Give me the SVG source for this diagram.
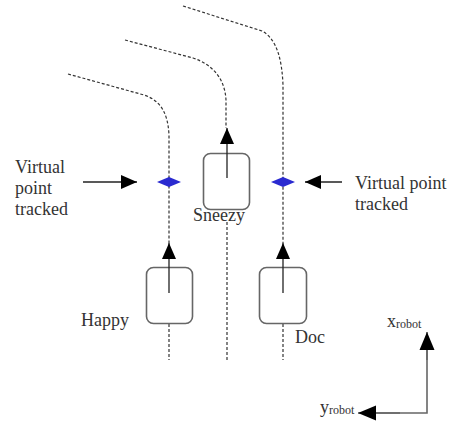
<svg xmlns="http://www.w3.org/2000/svg" width="454" height="423" viewBox="0 0 454 423">
  <style>
    text { font-family: "Liberation Serif", "DejaVu Serif", serif; fill: #333; }
    .label { font-size: 18px; }
    .sub { font-size: 12px; }
    .track { fill: none; stroke: #333; stroke-width: 1.2; stroke-dasharray: 3 2; }
    .robot { fill: #fff; stroke: #666; stroke-width: 1.6; }
    .heading { fill: none; stroke: #222; stroke-width: 1.3; }
    .pointer { fill: none; stroke: #222; stroke-width: 1.3; }
    .axis { fill: none; stroke: #666; stroke-width: 1.6; }
    .vpoint { fill: #2a2ad0; }
  </style>
  <defs>
    <marker id="head" markerUnits="userSpaceOnUse" markerWidth="16" markerHeight="16" viewBox="0 0 16 14" refX="16" refY="7" orient="auto">
      <path d="M0,0 L16,7 L0,14 Z" fill="#000"/>
    </marker>
    <marker id="headBig" markerUnits="userSpaceOnUse" markerWidth="18" markerHeight="16" viewBox="0 0 18 15" refX="18" refY="7.5" orient="auto">
      <path d="M0,0 L18,7.5 L0,15 Z" fill="#000"/>
    </marker>
  </defs>

  <!-- planned paths -->
  <g id="connectors">
    <path class="track" d="M68,74 L144,95 C162,101 168,115 169,135 L169,243"/>
    <path class="track" d="M169,324 L169,360"/>
    <path class="track" d="M125,40 L193,58 C214,65 225,80 226,100 L226,128"/>
    <path class="track" d="M227,222 L227,360"/>
    <path class="track" d="M183,6 L262,31 C277,39 282,60 283,85 L283,243"/>
    <path class="track" d="M283,324 L283,360"/>
    <!-- pointers to the tracked points -->
    <line class="pointer" x1="83" y1="182" x2="137" y2="182" marker-end="url(#head)"/>
    <line class="pointer" x1="342" y1="182" x2="305" y2="182" marker-end="url(#head)"/>
  </g>

  <!-- tracked virtual points -->
  <g id="vpoint-left">
    <polygon class="vpoint" points="157,182 169,177 181,182 169,187"/>
  </g>
  <g id="vpoint-right">
    <polygon class="vpoint" points="271,182 283,177 295,182 283,187"/>
  </g>

  <!-- robots -->
  <g id="sneezy">
    <rect class="robot" x="203.5" y="153.5" width="46" height="56" rx="7"/>
    <line class="heading" x1="227" y1="178" x2="227" y2="128" marker-end="url(#head)"/>
    <text class="label" x="193" y="221" font-family="Liberation Serif, DejaVu Serif, serif">Sneezy</text>
  </g>
  <g id="happy">
    <rect class="robot" x="146.5" y="267.5" width="46" height="56" rx="7"/>
    <line class="heading" x1="169" y1="293" x2="169" y2="243" marker-end="url(#head)"/>
    <text class="label" x="81" y="326" font-family="Liberation Serif, DejaVu Serif, serif">Happy</text>
  </g>
  <g id="doc">
    <rect class="robot" x="259.5" y="267.5" width="47" height="56" rx="7"/>
    <line class="heading" x1="283" y1="293" x2="283" y2="243" marker-end="url(#head)"/>
    <text class="label" x="295" y="343" font-family="Liberation Serif, DejaVu Serif, serif">Doc</text>
  </g>

  <!-- labels -->
  <g id="label-left">
    <text class="label" x="15" y="173" font-family="Liberation Serif, DejaVu Serif, serif">Virtual</text>
    <text class="label" x="15" y="194" font-family="Liberation Serif, DejaVu Serif, serif">point</text>
    <text class="label" x="15" y="215" font-family="Liberation Serif, DejaVu Serif, serif">tracked</text>
  </g>
  <g id="label-right">
    <text class="label" x="355" y="189" font-family="Liberation Serif, DejaVu Serif, serif">Virtual point</text>
    <text class="label" x="355" y="210" font-family="Liberation Serif, DejaVu Serif, serif">tracked</text>
  </g>

  <!-- robot frame axes -->
  <g id="axes">
    <polyline class="axis" points="427,348 427,413 373,413"/>
    <line class="axis" x1="427" y1="360" x2="427" y2="332" marker-end="url(#headBig)"/>
    <line class="axis" x1="400" y1="413" x2="358" y2="413" marker-end="url(#headBig)"/>
    <text class="label" x="387" y="327" font-family="Liberation Serif, DejaVu Serif, serif">x<tspan class="sub" dy="1">robot</tspan></text>
    <text class="label" x="320" y="413" font-family="Liberation Serif, DejaVu Serif, serif">y<tspan class="sub" dy="1">robot</tspan></text>
  </g>
</svg>
